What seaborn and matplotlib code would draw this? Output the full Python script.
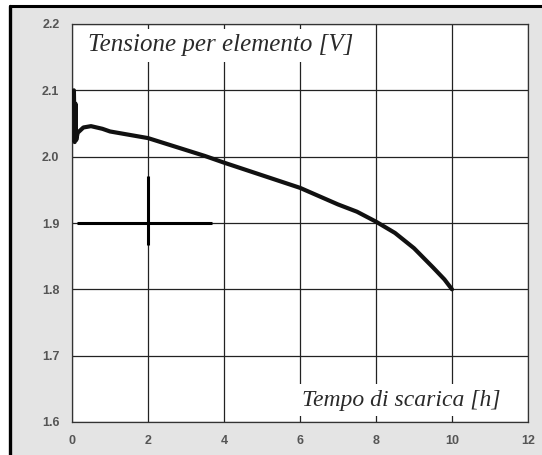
import matplotlib
matplotlib.use("Agg")
import matplotlib.pyplot as plt
import seaborn as sns
import pandas as pd
from matplotlib.lines import Line2D
from matplotlib.patches import Rectangle

# ---- data ----
tempo_h = [0.05, 0.07, 0.09, 0.11, 0.15, 0.3, 0.5, 0.8, 1.0, 1.5, 2.0, 2.5, 3.0, 3.5,
           4.0, 5.0, 6.0, 7.0, 7.5, 8.0, 8.5, 9.0, 9.5, 9.8, 10.0]
tensione_v = [2.100, 2.022, 2.080, 2.025, 2.036, 2.044, 2.046, 2.042, 2.038, 2.033,
              2.028, 2.019, 2.010, 2.001, 1.991, 1.972, 1.953, 1.928, 1.917, 1.902,
              1.885, 1.862, 1.833, 1.815, 1.800]
# crosshair marker visible in the picture
cross_h_x = [0.13, 3.68]
cross_h_y = [1.90, 1.90]
cross_v_x = [2.0, 2.0]
cross_v_y = [1.971, 1.867]

x_ticks = [0, 2, 4, 6, 8, 10, 12]
y_ticks = [1.6, 1.7, 1.8, 1.9, 2.0, 2.1, 2.2]
y_label_text = "Tensione per elemento [V]"
x_label_text = "Tempo di scarica [h]"

df = pd.DataFrame({"t": tempo_h, "v": tensione_v})

sns.set_theme(style="white")
plt.rcParams["font.family"] = ["Liberation Sans", "DejaVu Sans"]

fig = plt.figure(figsize=(5.42, 4.55), dpi=100)
fig.patch.set_facecolor("white")
W, H = 542, 455
# gray panel background and black frame (left + top)
fig.patches.append(Rectangle((10 / W, 0), 1 - 10 / W, 1 - 6 / H, transform=fig.transFigure,
                             facecolor="#e4e4e4", edgecolor="none", zorder=-5))
fig.lines.append(Line2D([9.5 / W, 1], [1 - 6 / H, 1 - 6 / H], transform=fig.transFigure,
                        color="black", lw=2.2))
fig.lines.append(Line2D([10 / W, 10 / W], [0, 1 - 6 / H], transform=fig.transFigure,
                        color="black", lw=2.4))

ax = fig.add_axes([72 / W, 1 - 422 / H, (528 - 72) / W, (422 - 24) / H])
ax.set_facecolor("white")

sns.lineplot(data=df, x="t", y="v", sort=False, estimator=None, color="#111111",
             lw=3.0, ax=ax, zorder=3)
ax.plot(cross_h_x, cross_h_y, color="black", lw=2.2, zorder=3, solid_capstyle="butt")
ax.plot(cross_v_x, cross_v_y, color="black", lw=2.2, zorder=3, solid_capstyle="butt")

ax.set_xlim(0, 12)
ax.set_ylim(1.6, 2.2)
ax.set_xticks(x_ticks)
ax.set_yticks(y_ticks)
ax.set_xticklabels([str(x) for x in x_ticks])
ax.set_yticklabels([f"{y:.1f}" for y in y_ticks])
ax.tick_params(axis="both", length=0, labelsize=9, labelcolor="#555555")
ax.tick_params(axis="x", pad=9)
ax.tick_params(axis="y", pad=9)
for lab in ax.get_xticklabels() + ax.get_yticklabels():
    lab.set_fontweight("bold")
ax.set_xlabel("")
ax.set_ylabel("")

ax.grid(True, color="#222222", lw=0.9)
ax.set_axisbelow(True)
for s in ax.spines.values():
    s.set_color("#333333")
    s.set_linewidth(0.9)

serif = ["Liberation Serif", "DejaVu Serif"]
ax.text(0.035, 0.947, y_label_text, transform=ax.transAxes, ha="left", va="center",
        fontsize=18, style="italic", family=serif, color="#2a2a2a", zorder=2.5,
        bbox=dict(facecolor="white", edgecolor="none", pad=4))
ax.text(0.504, 0.055, x_label_text, transform=ax.transAxes, ha="left", va="center",
        fontsize=17, style="italic", family=serif, color="#2a2a2a", zorder=2.5,
        bbox=dict(facecolor="white", edgecolor="none", pad=4))

fig.savefig("out.png", dpi=100)
